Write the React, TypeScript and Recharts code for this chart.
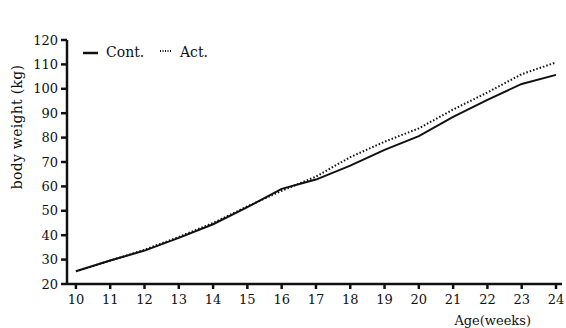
import { LineChart, Line, XAxis, YAxis, Legend, Label } from "recharts";

const weeks = [10, 11, 12, 13, 14, 15, 16, 17, 18, 19, 20, 21, 22, 23, 24];
const cont = [25.2, 29.6, 33.7, 38.9, 44.5, 51.5, 59, 62.8, 68.5, 75, 80.6, 88.5, 95.5, 102, 105.7];
const act = [25.2, 29.6, 34, 39.3, 45, 51.8, 58.2, 64, 72, 78.3, 83.8, 91.5, 98.5, 106, 110.8];
const xTicks = weeks;
const yTicks = [20, 30, 40, 50, 60, 70, 80, 90, 100, 110, 120];

const data = weeks.map((w, i) => ({ week: w, cont: cont[i], act: act[i] }));

const FONT = "DejaVu Serif";
const tickStyle = { fill: "#111", fontSize: 13, style: { fontFamily: FONT } };

const LegendBox = () => (
  <svg width={140} height={20} style={{ fontFamily: FONT, fontSize: 14 }}>
    <line x1={1} x2={16} y1={11} y2={11} stroke="#111" strokeWidth={2.5} />
    <text x={24} y={15} fill="#111" style={{ fontFamily: FONT }}>Cont.</text>
    <line x1={78} x2={90} y1={9} y2={9} stroke="#111" strokeWidth={2} strokeDasharray="1 1.5" />
    <text x={98} y={15} fill="#111" style={{ fontFamily: FONT }}>Act.</text>
  </svg>
);

export default function App() {
  return (
    <div style={{ position: "absolute", left: 0, top: 0, background: "#fff", fontFamily: FONT }}>
      <LineChart width={566} height={328} data={data} margin={{ top: 16, right: 4, left: 0, bottom: 0 }}>
        <XAxis
          dataKey="week"
          type="number"
          domain={[9.74, 24.175]}
          ticks={xTicks}
          allowDataOverflow
          height={44}
          stroke="#111"
          strokeWidth={2.5}
          tickSize={5}
          tickMargin={6}
          tick={tickStyle}
        >
          <Label
            content={() => (
              <text x={531} y={325} textAnchor="end" fill="#111" fontSize={13} style={{ fontFamily: FONT }}>
                Age(weeks)
              </text>
            )}
          />
        </XAxis>
        <YAxis
          type="number"
          domain={[20, 120]}
          ticks={yTicks}
          width={67}
          stroke="#111"
          strokeWidth={2.5}
          tickSize={6}
          tickMargin={3}
          tick={tickStyle}
        >
          <Label
            content={() => (
              <text
                x={22}
                y={127}
                transform="rotate(-90 22 127)"
                textAnchor="middle"
                fill="#111"
                fontSize={14}
                style={{ fontFamily: FONT }}
                letterSpacing={0.3}
              >
                body weight (kg)
              </text>
            )}
          />
        </YAxis>
        <Legend
          verticalAlign="top"
          align="left"
          content={() => <LegendBox />}
          wrapperStyle={{ top: 42, left: 82, width: 140 }}
        />
        <Line
          type="linear"
          dataKey="cont"
          stroke="#111"
          strokeWidth={2}
          dot={false}
          isAnimationActive={false}
        />
        <Line
          type="linear"
          dataKey="act"
          stroke="#111"
          strokeWidth={2}
          strokeDasharray="1.5 2"
          dot={false}
          isAnimationActive={false}
        />
      </LineChart>
    </div>
  );
}
